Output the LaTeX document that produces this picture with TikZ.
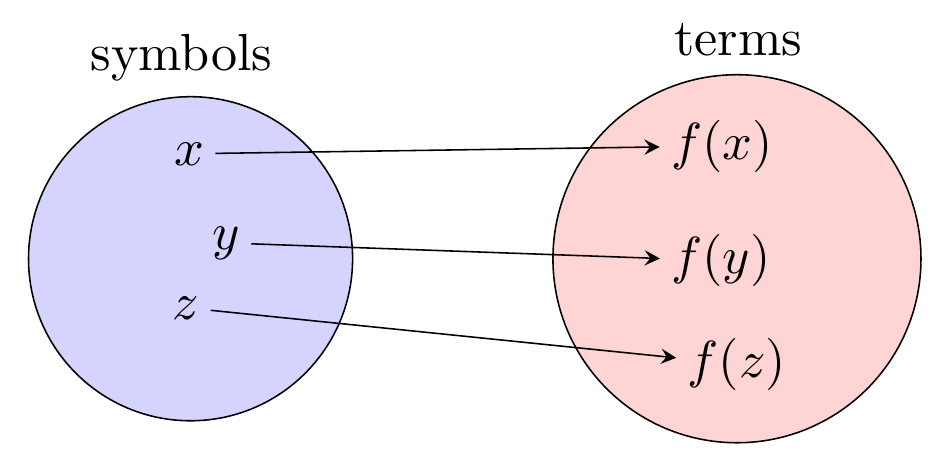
\documentclass[tikz,border=0pt]{standalone}
\usepackage{amsmath}
\usepackage{tikz}
\usetikzlibrary{arrows}

\begin{document}
\begin{tikzpicture}[>=stealth, every node/.style={inner sep=2pt}]
  \useasboundingbox (0,0) rectangle (6.356,3.091);
  \filldraw[fill=blue!17, line width=0.3pt] (1.283,1.349) circle (1.091cm);
  \filldraw[fill=red!17, line width=0.3pt] (4.962,1.349) circle (1.239cm);
  \node[anchor=base] (symbols) at (1.221,2.619) {symbols};
  \node[anchor=base] (terms) at (4.972,2.720) {terms};
  \node[anchor=base] (x) at (1.273,1.980) {$x$};
  \node[anchor=base] (y) at (1.522,1.414) {$y$};
  \node[anchor=base] (z) at (1.252,0.943) {$z$};
  \node[anchor=base] (fx) at (4.861,2.020) {$f(x)$};
  \node[anchor=base] (fy) at (4.855,1.248) {$f(y)$};
  \node[anchor=base] (fz) at (4.962,0.552) {$f(z)$};
  \draw[->, line width=0.3pt] (x) -- (fx);
  \draw[->, line width=0.3pt] (y) -- (fy);
  \draw[->, line width=0.3pt] (z) -- (fz);
\end{tikzpicture}
\end{document}
